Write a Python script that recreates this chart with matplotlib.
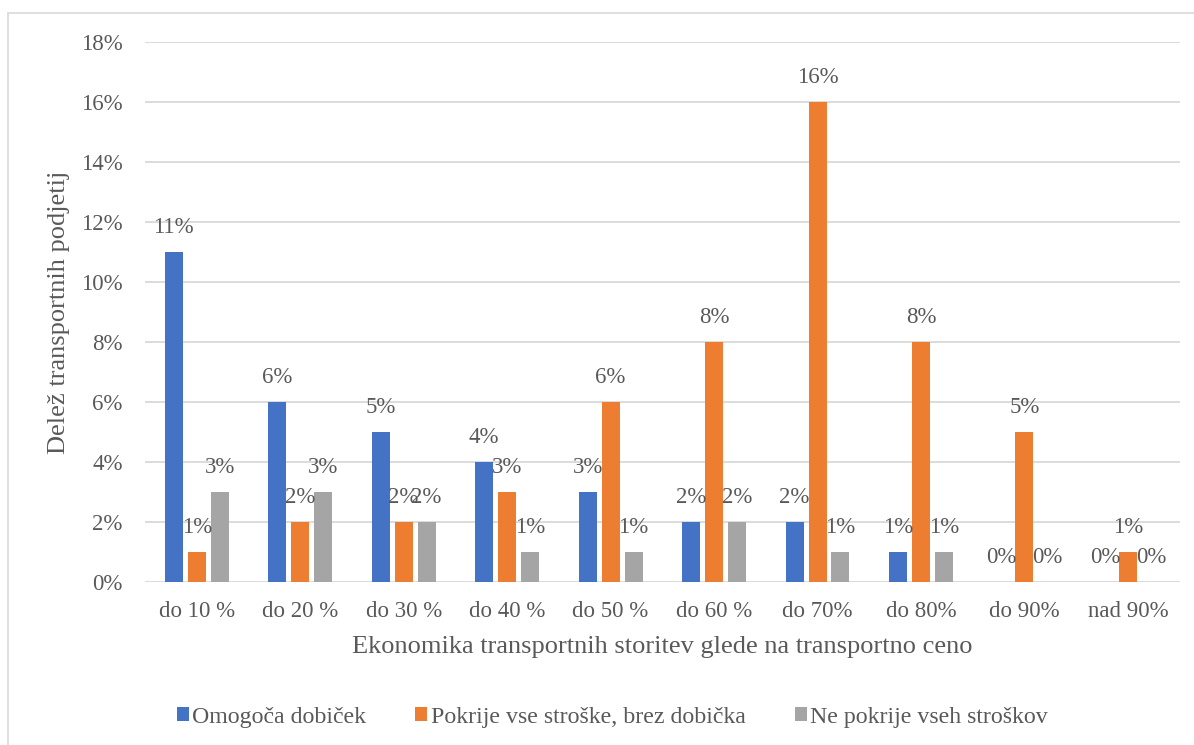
import matplotlib
matplotlib.use("Agg")
import matplotlib.pyplot as plt
import numpy as np
from matplotlib.patches import Rectangle
from matplotlib.ticker import FuncFormatter

categories = ["do 10 %", "do 20 %", "do 30 %", "do 40 %", "do 50 %",
              "do 60 %", "do 70%", "do 80%", "do 90%", "nad 90%"]
series_names = ["Omogoča dobiček", "Pokrije vse stroške, brez dobička",
                "Ne pokrije vseh stroškov"]
omogoca = [11, 6, 5, 4, 3, 2, 2, 1, 0, 0]
pokrije = [1, 2, 2, 3, 6, 8, 16, 8, 5, 1]
ne_pokrije = [3, 3, 2, 1, 1, 2, 1, 1, 0, 0]
y_ticks = [0, 2, 4, 6, 8, 10, 12, 14, 16, 18]

colors = ["#4472C4", "#ED7D31", "#A5A5A5"]
text_color = "#595959"
grid_color = "#D9D9D9"

plt.rcParams["font.family"] = ["Liberation Serif", "DejaVu Serif"]

fig = plt.figure(figsize=(11.94, 7.45), dpi=100)
ax = fig.add_axes([0.1214, 0.2188, 0.8666, 0.7248])

# outer chart frame
fig.patches.append(Rectangle((8 / 1194, -0.01), 1.1, 1 - 13 / 745 + 0.01,
                             transform=fig.transFigure, fill=False,
                             edgecolor="#D9D9D9", linewidth=1.2))

x = np.arange(len(categories))
width = 0.174
step = 0.222
for i, (vals, name, col) in enumerate(zip([omogoca, pokrije, ne_pokrije],
                                          series_names, colors)):
    pos = x + (i - 1) * step
    ax.bar(pos, vals, width, color=col, label=name, zorder=3)
    for xp, v in zip(pos, vals):
        ax.annotate(f"{v}%", (xp, v), xytext=(0, 17.5), textcoords="offset points",
                    ha="center", va="center", fontsize=16.5, color=text_color,
                    zorder=4)

ax.set_xlim(-0.5, len(categories) - 0.5)
ax.set_ylim(0, 18)
ax.set_yticks(y_ticks)
ax.yaxis.set_major_formatter(FuncFormatter(lambda v, p: f"{v:.0f}%"))
ax.set_xticks(x)
ax.set_xticklabels(categories)
ax.tick_params(axis="both", length=0, labelsize=16.5, labelcolor=text_color)
ax.tick_params(axis="y", pad=16)
ax.tick_params(axis="x", pad=14)
ax.grid(axis="y", color=grid_color, linewidth=1.3, zorder=0)
for s in ax.spines.values():
    s.set_visible(False)

ax.set_xlabel("Ekonomika transportnih storitev glede na transportno ceno",
              fontsize=19, color=text_color, labelpad=10)
ax.set_ylabel("Delež transportnih podjetij", fontsize=19, color=text_color,
              labelpad=8)

fig.legend(loc="center", bbox_to_anchor=(0.513, 1 - 717 / 745), ncol=3,
           frameon=False, fontsize=17.2, labelcolor=text_color,
           handlelength=0.5, handleheight=0.5, handletextpad=0.15,
           columnspacing=2.05)

fig.savefig("out.png", dpi=100)
